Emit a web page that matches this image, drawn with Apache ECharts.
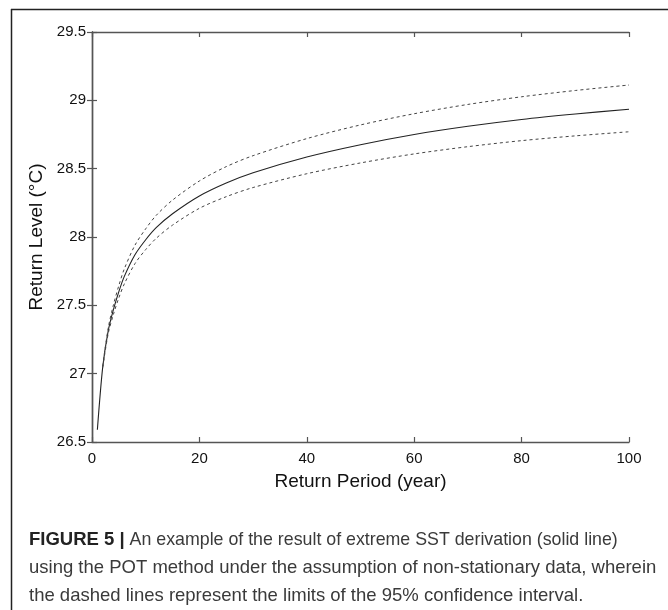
<!DOCTYPE html>
<html>
<head>
<meta charset="utf-8">
<script src="https://cdn.jsdelivr.net/npm/echarts@6/dist/echarts.min.js"></script>
<style>
  html, body { margin: 0; padding: 0; background: #fff; }
  #chart { width: 668px; height: 610px; }
</style>
</head>
<body>
<div id="chart"></div>
<script>
// Return periods (years) at which the return levels are sampled
const periods = [1, 2, 3, 4, 5, 6, 8, 10, 12, 15, 20, 25, 30, 40, 50, 60, 70, 80, 90, 100];
// Estimated return level (°C)
const returnLevel = [26.59, 27.05, 27.31, 27.47, 27.60, 27.71, 27.87, 27.98, 28.07, 28.17,
                     28.30, 28.395, 28.47, 28.585, 28.675, 28.75, 28.81, 28.86, 28.90, 28.935];
// 95% confidence limits (start at T = 2)
const limitPeriods = periods.slice(1);
const upperLimit = [27.055, 27.33, 27.505, 27.645, 27.765, 27.94, 28.06, 28.16, 28.27,
                    28.41, 28.515, 28.595, 28.72, 28.82, 28.902, 28.97, 29.026, 29.072, 29.112];
const lowerLimit = [27.045, 27.29, 27.435, 27.555, 27.655, 27.805, 27.908, 27.992, 28.087,
                    28.21, 28.295, 28.362, 28.463, 28.542, 28.608, 28.661, 28.705, 28.74, 28.77];

const xTitle = 'Return Period (year)';
const yTitle = 'Return Level (°C)';
const captionLines = [
  '{b|FIGURE 5 |}{n| An example of the result of extreme SST derivation (solid line)}',
  'using the POT method under the assumption of non-stationary data, wherein',
  'the dashed lines represent the limits of the 95% confidence interval.'
];

const pairs = (xs, ys) => xs.map((x, i) => [x, ys[i]]);

const FONT = '"Liberation Sans", Arial, Helvetica, sans-serif';
const AXIS_COLOR = '#555';

const chart = echarts.init(document.getElementById('chart'), null, { renderer: 'canvas' });

const baseAxis = {
  axisLine: { show: true, lineStyle: { color: AXIS_COLOR, width: 1.4 } },
  axisTick: { show: true, inside: true, length: 5, lineStyle: { color: AXIS_COLOR, width: 1.2 } },
  splitLine: { show: false }
};

const curve = (name, xs, ys, lineStyle) => ({
  type: 'line', name, data: pairs(xs, ys),
  smooth: 0.3, showSymbol: false, symbol: 'none',
  lineStyle
});

const option = {
  backgroundColor: '#fff',
  animation: false,
  grid: { left: 92, right: 39, top: 32, bottom: 168, containLabel: false },
  xAxis: [
    Object.assign({}, baseAxis, {
      type: 'value', min: 0, max: 100, interval: 20, position: 'bottom',
      axisLabel: { color: '#111', fontFamily: FONT, fontSize: 15, margin: 9 },
      name: xTitle, nameLocation: 'middle', nameGap: 30,
      nameTextStyle: { color: '#111', fontFamily: FONT, fontSize: 19 }
    }),
    Object.assign({}, baseAxis, {
      type: 'value', min: 0, max: 100, interval: 20, position: 'top',
      axisLabel: { show: false }
    })
  ],
  yAxis: [
    Object.assign({}, baseAxis, {
      type: 'value', min: 26.5, max: 29.5, interval: 0.5, position: 'left',
      axisLabel: { color: '#111', fontFamily: FONT, fontSize: 15, margin: 6 },
      name: yTitle, nameLocation: 'middle', nameGap: 37,
      nameTextStyle: { color: '#111', fontFamily: FONT, fontSize: 19 }
    }),
    Object.assign({}, baseAxis, {
      type: 'value', min: 26.5, max: 29.5, interval: 0.5, position: 'right',
      axisLabel: { show: false }
    })
  ],
  series: [
    curve('Return level', periods, returnLevel, { color: '#222', width: 1.1 }),
    curve('Upper 95%', limitPeriods, upperLimit, { color: '#444', width: 1, type: [3, 3] }),
    curve('Lower 95%', limitPeriods, lowerLimit, { color: '#444', width: 1, type: [3, 3] })
  ],
  graphic: [
    // frame around the figure (top and left edges)
    { type: 'line', shape: { x1: 11, y1: 9.5, x2: 668, y2: 9.5 }, style: { stroke: '#222', lineWidth: 1.5 } },
    { type: 'line', shape: { x1: 11.5, y1: 9, x2: 11.5, y2: 610 }, style: { stroke: '#222', lineWidth: 1.5 } }
  ].concat(captionLines.map((t, i) => ({
    type: 'text', left: 29, top: 530 + i * 28,
    style: {
      text: t, fill: '#3a3a3a', font: '18.5px ' + FONT,
      rich: {
        b: { fontWeight: 'bold', fill: '#222', fontSize: 18.5, fontFamily: FONT, lineHeight: 22, verticalAlign: 'bottom' },
        n: { fill: '#3a3a3a', fontSize: 17.8, fontFamily: FONT, lineHeight: 22, verticalAlign: 'bottom' }
      }
    }
  })))
};

chart.setOption(option);
</script>
</body>
</html>
